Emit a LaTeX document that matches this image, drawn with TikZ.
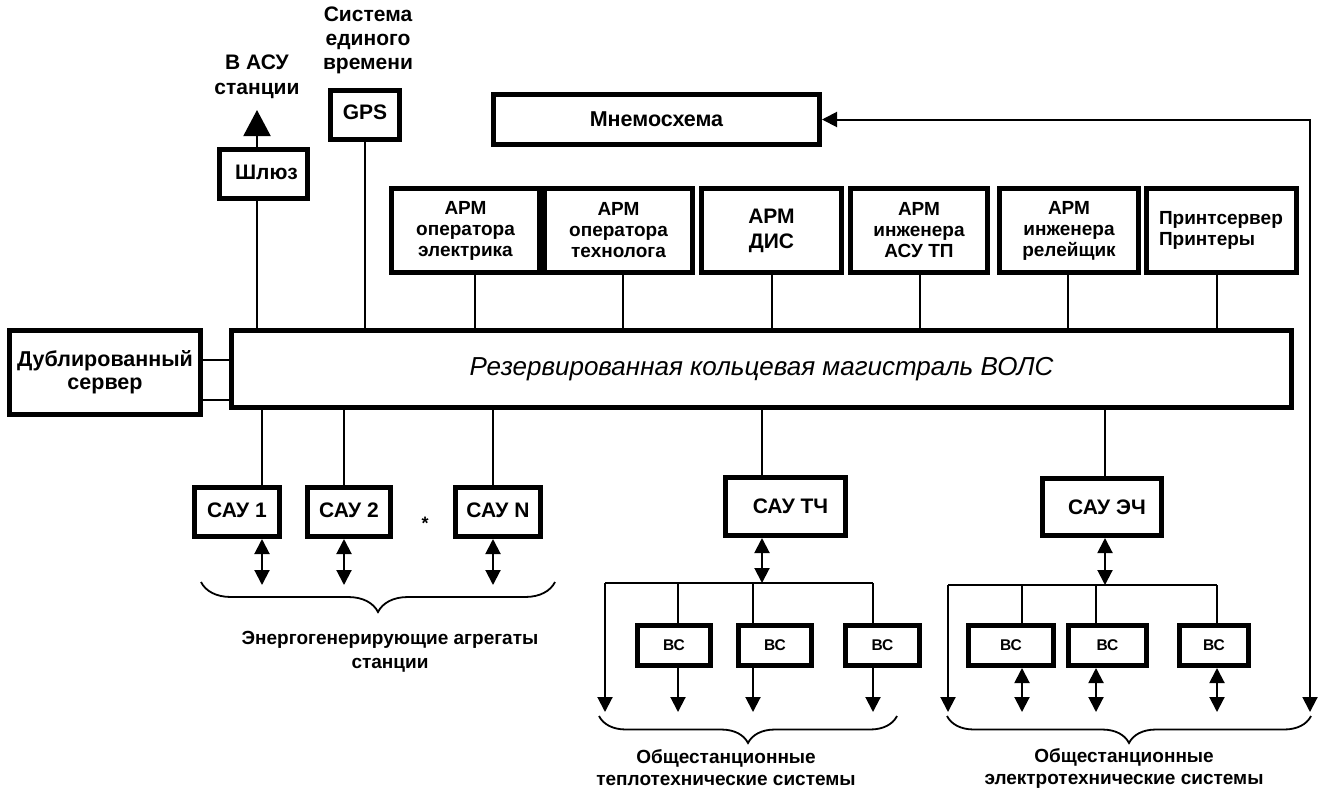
\documentclass[tikz,border=0pt]{standalone}
\usepackage{fontspec}
\setmainfont{Liberation Sans}
\usetikzlibrary{arrows.meta, decorations.pathreplacing}

\begin{document}
\begin{tikzpicture}[x=1pt, y=-1pt, line join=miter,
    blk/.style 2 args={draw, line width=5pt, inner sep=0pt, minimum width=#1,
      minimum height=#2, align=center, font=\bfseries\fontsize{21}{24}\selectfont},
    arm/.style={blk={#1}{84}, font=\bfseries\fontsize{19}{21}\selectfont},
    vs/.style={blk={#1}{40}, font=\bfseries\fontsize{15.5}{18}\selectfont},
    lbl/.style={align=center, font=\bfseries\fontsize{19}{24}\selectfont},
    link/.style={line width=2pt},
    one/.style={link, -{Triangle[width=15pt,length=15pt]}},
    dbl/.style={link, {Triangle[width=15pt,length=15pt]}-{Triangle[width=15pt,length=15pt]}},
    brc/.style={line width=1.8pt, decorate, decoration={brace, mirror, amplitude=#1}}]

  \useasboundingbox (0,0) rectangle (1319,793);

  %--------------------------
  % Top: gateway, GPS, mimic panel
  %--------------------------
  \node[lbl, font=\bfseries\fontsize{21}{25}\selectfont] (asuTxt) at (257,77) {В АСУ\\станции};
  \node[lbl, font=\bfseries\fontsize{21}{24}\selectfont] (timeTxt) at (368,40) {Система\\единого\\времени};
  \node[blk={88}{49}] (gw) at (263.5,174) {\raisebox{4pt}{\hspace*{6pt}Шлюз}};
  \node[blk={69}{49}] (gps) at (365,115) {\raisebox{6pt}{GPS}};
  \node[blk={326}{50}, font=\bfseries\fontsize{21.5}{24}\selectfont] (mnemo) at (656.5,119.5) {Мнемосхема};

  % Workstations
  \node[arm=148] (arm1) at (465.5,230.5) {АРМ\\оператора\\электрика};
  \node[arm=148] (arm2) at (618.5,230.5) {АРМ\\оператора\\технолога};
  \node[arm=140, font=\bfseries\fontsize{21}{25}\selectfont] (arm3) at (771.5,230.5) {АРМ\\ДИС};
  \node[arm=137] (arm4) at (919,230.5) {АРМ\\инженера\\АСУ ТП};
  \node[arm=139] (arm5) at (1069,230.5) {АРМ\\инженера\\релейщик};
  \node[arm=150, align=left] (arm6) at (1221.5,230.5) {\raisebox{9pt}{\parbox{125pt}{Принтсервер\\Принтеры}}};

  %--------------------------
  % Ring bus and server
  %--------------------------
  \node[blk={1060}{77}, font=\itshape\fontsize{26}{30}\selectfont] (bus) at (761.5,369)
    {Резервированная кольцевая магистраль ВОЛС};
  \node[blk={191}{84}, font=\bfseries\fontsize{21.5}{23}\selectfont] (dubl) at (105,372.5)
    {Дублированный\\сервер};

  \draw[link] ([yshift=12.5pt]dubl.east) -- ([yshift=12.5pt]dubl.east -| bus.west);
  \draw[link] ([yshift=-27.5pt]dubl.east) -- ([yshift=-27.5pt]dubl.east -| bus.west);

  \coordinate (asu) at (257,110);
  \draw[link, -{Triangle[width=27pt,length=26pt]}] (asu |- gw.north) -- (asu);
  \draw[link] (asu |- gw.south) -- (asu |- bus.north);
  \draw[link] (gps.south) -- (gps.south |- bus.north);

  \foreach \n/\x in {arm1/475, arm2/623, arm3/772, arm4/920, arm5/1068, arm6/1217}
    \draw[link] (\x,0 |- \n.south) -- (\x,0 |- bus.north);

  %--------------------------
  % Generating units
  %--------------------------
  \node[blk={85}{49}] (sau1) at (237,512) {\raisebox{3pt}{САУ 1}};
  \node[blk={83}{49}] (sau2) at (349,512) {\raisebox{3pt}{САУ 2}};
  \node[blk={85}{49}] (saun) at (498,512) {\raisebox{3pt}{САУ N}};
  \node[font=\bfseries\fontsize{18}{20}\selectfont] (dots) at (425,523) {*};

  \coordinate (lowS) at (0,585);
  \foreach \n/\x in {sau1/262, sau2/344, saun/493} {
    \draw[link] (\x,0 |- bus.south) -- (\x,0 |- \n.north);
    \draw[dbl] (\x,0 |- \n.south) -- (\x,0 |- lowS);
  }

  \draw[brc=30] (201,582) -- (555,582);
  \node[lbl] (genTxt) at (390,651.5) {Энергогенерирующие агрегаты\\станции};

  %--------------------------
  % Station-wide systems
  %--------------------------
  \node[blk={120}{58}] (sautc) at (785.5,506.5) {\raisebox{-5pt}{\hspace*{10pt}САУ ТЧ}};
  \node[blk={119}{57}] (sauec) at (1102,507) {\raisebox{-5pt}{\hspace*{10pt}САУ ЭЧ}};

  \node[vs=73] (vs1) at (674,645.5) {ВС};
  \node[vs=73] (vs2) at (775,645.5) {ВС};
  \node[vs=74] (vs3) at (882.5,645.5) {ВС};
  \node[vs=85] (vs4) at (1011,645.5) {ВС};
  \node[vs=78] (vs5) at (1107.5,645.5) {ВС};
  \node[vs=69] (vs6) at (1214,645.5) {ВС};

  \coordinate (low) at (0,712);
  \coordinate (hT) at (762,583);
  \coordinate (lT) at (605,583);
  \coordinate (rT) at (873,583);
  \coordinate (hE) at (1105,585);
  \coordinate (lE) at (948,585);
  \coordinate (rE) at (1217,585);
  \coordinate (rl) at (1310,0);

  % heat engineering
  \draw[link] (hT |- bus.south) -- (hT |- sautc.north);
  \draw[dbl] (hT |- sautc.south) -- (hT);
  \draw[link] (lT) -- (rT);
  \draw[one] (lT) -- (lT |- low);
  \foreach \n/\x in {vs1/678, vs2/753, vs3/873} {
    \draw[link] (\x,0 |- lT) -- (\x,0 |- \n.north);
    \draw[one] (\x,0 |- \n.south) -- (\x,0 |- low);
  }

  % electrical
  \draw[link] (hE |- bus.south) -- (hE |- sauec.north);
  \draw[dbl] (hE |- sauec.south) -- (hE);
  \draw[link] (lE) -- (rE);
  \draw[one] (lE) -- (lE |- low);
  \foreach \n/\x in {vs4/1022, vs5/1096, vs6/1217} {
    \draw[link] (\x,0 |- lE) -- (\x,0 |- \n.north);
    \draw[dbl] (\x,0 |- \n.south) -- (\x,0 |- low);
  }

  % mimic panel feed
  \draw[dbl] (mnemo.east) -| (rl |- low);

  \draw[brc=27] (599,716) -- (897,716);
  \draw[brc=27] (947,716) -- (1311,716);
  \node[lbl, font=\bfseries\fontsize{19}{22}\selectfont] (thTxt) at (726,768) {Общестанционные\\теплотехнические системы};
  \node[lbl, font=\bfseries\fontsize{19}{22}\selectfont] (elTxt) at (1124,768) {Общестанционные\\электротехнические системы};

\end{tikzpicture}
\end{document}
